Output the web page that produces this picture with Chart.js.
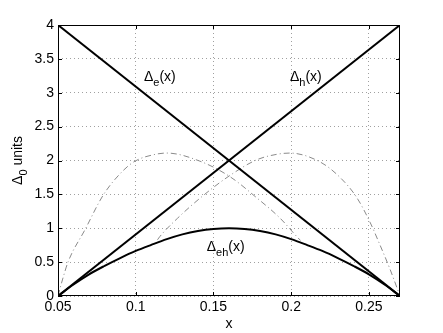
<!DOCTYPE html>
<html>
<head>
<meta charset="utf-8">
<script src="https://cdn.jsdelivr.net/npm/chart.js@4/dist/chart.umd.min.js"></script>
<style>
  html, body { margin: 0; padding: 0; background: #fff; }
  #wrap { width: 443px; height: 333px; }
</style>
</head>
<body>
<div id="wrap"><canvas id="c" width="443" height="333"></canvas></div>
<script>
// ---- data ----
const xTicks = [0.05, 0.1, 0.15, 0.2, 0.25];
const xTickLabels = ["0.05", "0.1", "0.15", "0.2", "0.25"];
const yTicks = [0, 0.5, 1, 1.5, 2, 2.5, 3, 3.5, 4];
const yTickLabels = ["0", "0.5", "1", "1.5", "2", "2.5", "3", "3.5", "4"];

const lineX = [0.05, 0.27];
const deltaE = [4, 0];
const deltaH = [0, 4];

const ehX = [0.05, 0.06, 0.07, 0.08, 0.09, 0.10, 0.11, 0.12, 0.13, 0.14, 0.15, 0.16, 0.17, 0.18, 0.19, 0.20, 0.21, 0.22, 0.23, 0.24, 0.25, 0.26, 0.27];
const deltaEH = [0, 0.17, 0.32, 0.445, 0.56, 0.665, 0.755, 0.84, 0.91, 0.96, 0.99, 1.0, 0.99, 0.96, 0.91, 0.84, 0.755, 0.665, 0.56, 0.445, 0.32, 0.17, 0];

const leftX = [0.05, 0.053, 0.0566, 0.0674, 0.0791, 0.091, 0.0995, 0.1124, 0.12, 0.1413, 0.1607, 0.1778, 0.1928, 0.2035, 0.206];
const leftY = [0, 0.25, 0.51, 0.98, 1.49, 1.83, 1.99, 2.09, 2.11, 1.99, 1.76, 1.45, 1.15, 0.88, 0.82];
const rightX = [0.114, 0.1156, 0.127, 0.1422, 0.16, 0.1778, 0.1905, 0.199, 0.2185, 0.231, 0.242, 0.2507, 0.257, 0.2635, 0.27];
const rightY = [0.83, 0.88, 1.15, 1.46, 1.77, 2.01, 2.09, 2.11, 1.98, 1.76, 1.46, 1.09, 0.76, 0.40, 0];

// label anchor positions (data coordinates)
const labels = [
  { x: 0.1053, y: 3.17, main: "\u0394", sub: "e", rest: "(x)" },
  { x: 0.1992, y: 3.17, main: "\u0394", sub: "h", rest: "(x)" },
  { x: 0.1457, y: 0.66, main: "\u0394", sub: "eh", rest: "(x)" }
];

const pts = (xs, ys) => xs.map((x, i) => ({ x: x, y: ys[i] }));
const FONT = "'Liberation Sans', Arial, Helvetica, sans-serif";

const decor = {
  id: 'decor',
  afterDraw(chart) {
    const ctx = chart.ctx;
    const a = chart.chartArea;
    const xs = chart.scales.x, ys = chart.scales.y;
    ctx.save();
    // box
    ctx.strokeStyle = '#000';
    ctx.lineWidth = 1;
    ctx.strokeRect(Math.round(a.left) + 0.5, Math.round(a.top) + 0.5,
                   Math.round(a.right - a.left) - 1, Math.round(a.bottom - a.top) - 1);
    // inward ticks
    const tl = 4;
    ctx.beginPath();
    xTicks.forEach(v => {
      const px = Math.round(xs.getPixelForValue(v)) + 0.5;
      ctx.moveTo(px, a.bottom); ctx.lineTo(px, a.bottom - tl);
      ctx.moveTo(px, a.top); ctx.lineTo(px, a.top + tl);
    });
    yTicks.forEach(v => {
      const py = Math.round(ys.getPixelForValue(v)) + 0.5;
      ctx.moveTo(a.left, py); ctx.lineTo(a.left + tl, py);
      ctx.moveTo(a.right, py); ctx.lineTo(a.right - tl, py);
    });
    ctx.stroke();

    // curve labels
    ctx.fillStyle = '#000';
    ctx.textBaseline = 'alphabetic';
    labels.forEach(l => {
      let px = xs.getPixelForValue(l.x);
      const py = ys.getPixelForValue(l.y);
      ctx.font = '14px ' + FONT;
      ctx.fillText(l.main, px, py);
      px += ctx.measureText(l.main).width;
      ctx.font = '11px ' + FONT;
      ctx.fillText(l.sub, px, py + 5);
      px += ctx.measureText(l.sub).width;
      ctx.font = '14px ' + FONT;
      ctx.fillText(l.rest, px, py);
    });

    // y-axis title: Δ0 units (rotated)
    const cy = (a.top + a.bottom) / 2;
    ctx.translate(22, cy);
    ctx.rotate(-Math.PI / 2);
    ctx.font = '14px ' + FONT;
    const w1 = ctx.measureText("\u0394").width;
    ctx.font = '11px ' + FONT;
    const w2 = ctx.measureText("0").width;
    ctx.font = '14px ' + FONT;
    const w3 = ctx.measureText(" units").width;
    let sx = -(w1 + w2 + w3) / 2;
    ctx.fillText("\u0394", sx, 0); sx += w1;
    ctx.font = '11px ' + FONT;
    ctx.fillText("0", sx, 5); sx += w2;
    ctx.font = '14px ' + FONT;
    ctx.fillText(" units", sx, 0);
    ctx.restore();

    // x-axis title
    ctx.save();
    ctx.font = '14px ' + FONT;
    ctx.fillStyle = '#000';
    ctx.textAlign = 'center';
    ctx.textBaseline = 'alphabetic';
    ctx.fillText("x", (a.left + a.right) / 2, 328);
    ctx.restore();
  }
};

const dashDot = [6, 3, 1, 3];

new Chart(document.getElementById('c'), {
  type: 'scatter',
  data: {
    datasets: [
      { data: pts(lineX, deltaE), showLine: true, borderColor: '#000', borderWidth: 2, pointRadius: 0, tension: 0 },
      { data: pts(lineX, deltaH), showLine: true, borderColor: '#000', borderWidth: 2, pointRadius: 0, tension: 0 },
      { data: pts(ehX, deltaEH), showLine: true, borderColor: '#000', borderWidth: 2, pointRadius: 0, cubicInterpolationMode: 'monotone' },
      { data: pts(leftX, leftY), showLine: true, borderColor: '#8a8a8a', borderWidth: 1, borderDash: dashDot, pointRadius: 0, cubicInterpolationMode: 'monotone' },
      { data: pts(rightX, rightY), showLine: true, borderColor: '#8a8a8a', borderWidth: 1, borderDash: dashDot, pointRadius: 0, cubicInterpolationMode: 'monotone' }
    ]
  },
  options: {
    responsive: false,
    animation: false,
    devicePixelRatio: 1,
    layout: { padding: { left: 0, top: 25, right: 43, bottom: 0 } },
    plugins: { legend: { display: false }, tooltip: { enabled: false }, title: { display: false } },
    scales: {
      x: {
        type: 'linear', min: 0.05, max: 0.27,
        afterBuildTicks: s => { s.ticks = xTicks.map(v => ({ value: v })); },
        afterFit: s => { s.height = 37; },
        border: { display: false, dash: [1, 3] },
        grid: { color: '#a0a0a0', lineWidth: 1, drawTicks: false },
        ticks: {
          padding: 3, color: '#000', font: { family: FONT, size: 14 }, maxRotation: 0, autoSkip: false,
          callback: (v) => { const i = xTicks.indexOf(v); return i >= 0 ? xTickLabels[i] : ''; }
        }
      },
      y: {
        type: 'linear', min: 0, max: 4,
        afterBuildTicks: s => { s.ticks = yTicks.map(v => ({ value: v })); },
        afterFit: s => { s.width = 58; },
        border: { display: false, dash: [1, 3] },
        grid: { color: '#a0a0a0', lineWidth: 1, drawTicks: false },
        ticks: {
          padding: 4, color: '#000', font: { family: FONT, size: 14 }, autoSkip: false,
          callback: (v) => { const i = yTicks.indexOf(v); return i >= 0 ? yTickLabels[i] : ''; }
        }
      }
    }
  },
  plugins: [decor]
});
</script>
</body>
</html>
